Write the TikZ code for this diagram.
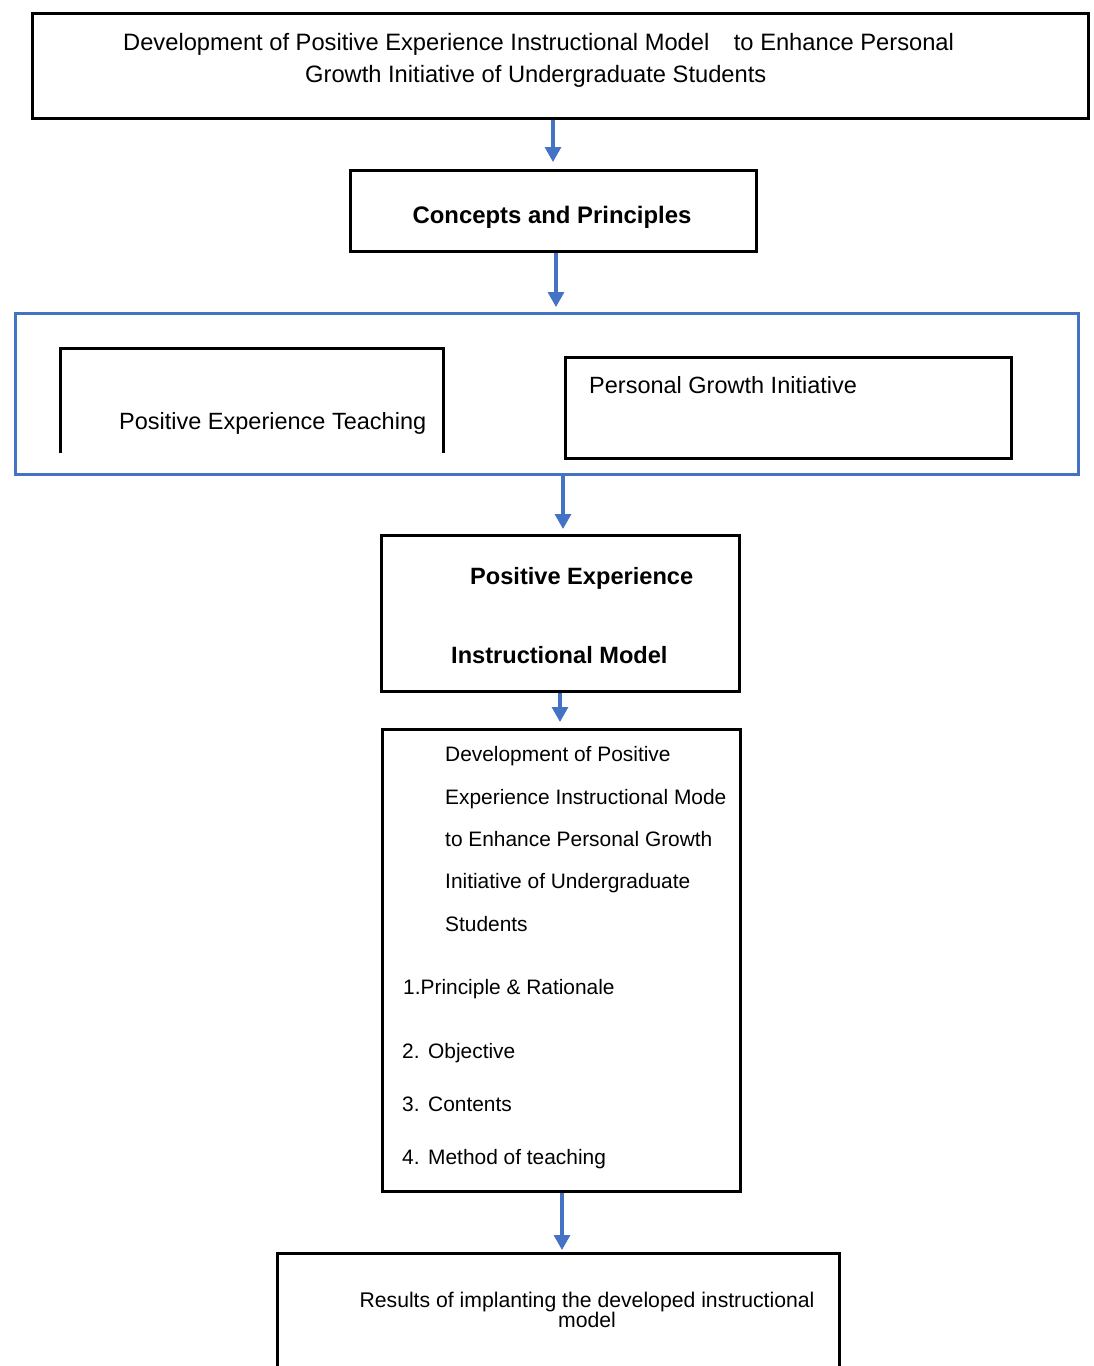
\documentclass[tikz,border=0pt]{standalone}
\usepackage{fontspec}
\setmainfont{Liberation Sans}
\usetikzlibrary{arrows.meta}
\definecolor{arrblue}{HTML}{4472C4}
\tikzset{
  box/.style={draw=black, line width=3pt, anchor=north west, inner sep=0pt},
  frame/.style={draw=arrblue, line width=3pt, anchor=north west, inner sep=0pt},
  ghost/.style={anchor=north west, inner sep=0pt},
  edge/.style={black, line width=3pt},
  arr/.style={draw=arrblue, line width=3.2pt, -{Triangle[width=16pt,length=15pt]}},
  txt/.style={inner sep=0pt, font=\fontsize{23.5}{28}\selectfont},
  btxt/.style={inner sep=0pt, font=\fontsize{23.6}{28}\selectfont\bfseries},
  stxt/.style={inner sep=0pt, font=\fontsize{20.9}{20}\selectfont},
}
\begin{document}
\begin{tikzpicture}[x=1pt,y=-1pt]
\useasboundingbox (0,0) rectangle (1094,1366);
% arrow x positions
\coordinate (ax1) at (553,0);
\coordinate (ax2) at (556,0);
\coordinate (ax3) at (563,0);
\coordinate (ax4) at (560,0);
\coordinate (ax5) at (562,0);
% top box
\node[box, minimum width=1056pt, minimum height=105pt] (top) at (31,12) {};
\node[txt, anchor=base west, font=\fontsize{23.7}{28}\selectfont] (t1) at (123,50) {Development of Positive Experience Instructional Model\hspace{18pt} to Enhance Personal};
\node[txt, anchor=base west, font=\fontsize{23.7}{28}\selectfont] (t2) at (305,82) {Growth Initiative of Undergraduate Students};
% concepts
\node[box, minimum width=406pt, minimum height=81pt] (cp) at (349,169) {};
\node[btxt, anchor=base, font=\fontsize{23.9}{28}\selectfont\bfseries] (cpt) at (552,223) {Concepts and Principles};
% blue frame
\node[frame, minimum width=1063pt, minimum height=161pt] (fr) at (14,312) {};
% left open box
\node[ghost, minimum width=383pt, minimum height=105pt] (pet) at (60,348) {};
\draw[edge] (pet.south west) -- (pet.north west) -- (pet.north east) -- (pet.south east);
\node[txt, anchor=base west] (pett) at (119,429) {Positive Experience Teaching};
% right box
\node[box, minimum width=446pt, minimum height=101pt] (pgi) at (564,356) {};
\node[txt, anchor=base west] (pgit) at (589,393) {Personal Growth Initiative};
% model box
\node[box, minimum width=358pt, minimum height=156pt] (pem) at (380,534) {};
\node[btxt, anchor=base west] (pem1) at (470,584) {Positive Experience};
\node[btxt, anchor=base west] (pem2) at (451,663) {Instructional Model};
% list box
\node[box, minimum width=358pt, minimum height=462pt] (lst) at (381,728) {};
\node[stxt, anchor=base west] (l1) at (445,761.5) {Development of Positive};
\node[stxt, anchor=base west] (l2) at (445,804.5) {Experience Instructional Mode};
\node[stxt, anchor=base west] (l3) at (445,846.5) {to Enhance Personal Growth};
\node[stxt, anchor=base west] (l4) at (445,888.5) {Initiative of Undergraduate};
\node[stxt, anchor=base west] (l5) at (445,931.5) {Students};
\node[stxt, anchor=base west] (i1) at (403,994.5) {1.Principle \& Rationale};
\node[stxt, anchor=base west] (i2n) at (402,1058.5) {2.};
\node[stxt, anchor=base west] (i2) at (428,1058.5) {Objective};
\node[stxt, anchor=base west] (i3n) at (402,1111.5) {3.};
\node[stxt, anchor=base west] (i3) at (428,1111.5) {Contents};
\node[stxt, anchor=base west] (i4n) at (402,1164.5) {4.};
\node[stxt, anchor=base west] (i4) at (428,1164.5) {Method of teaching};
% results open box
\node[ghost, minimum width=562pt, minimum height=116pt] (res) at (277,1253) {};
\draw[edge] (res.south west) -- (res.north west) -- (res.north east) -- (res.south east);
\node[stxt, anchor=base, align=center, font=\fontsize{21.2}{20}\selectfont] (rest) at (587,1327.5) {Results of implanting the developed instructional\\model};
% arrows
\draw[arr, shorten >=7pt] (top.south -| ax1) -- (cp.north -| ax1);
\draw[arr, shorten >=5pt] (cp.south -| ax2) -- (fr.north -| ax2);
\draw[arr, shorten >=5pt] (fr.south -| ax3) -- (pem.north -| ax3);
\draw[arr, shorten >=6pt] (pem.south -| ax4) -- (lst.north -| ax4);
\draw[arr, shorten >=3pt] (lst.south -| ax5) -- (res.north -| ax5);
\end{tikzpicture}
\end{document}
